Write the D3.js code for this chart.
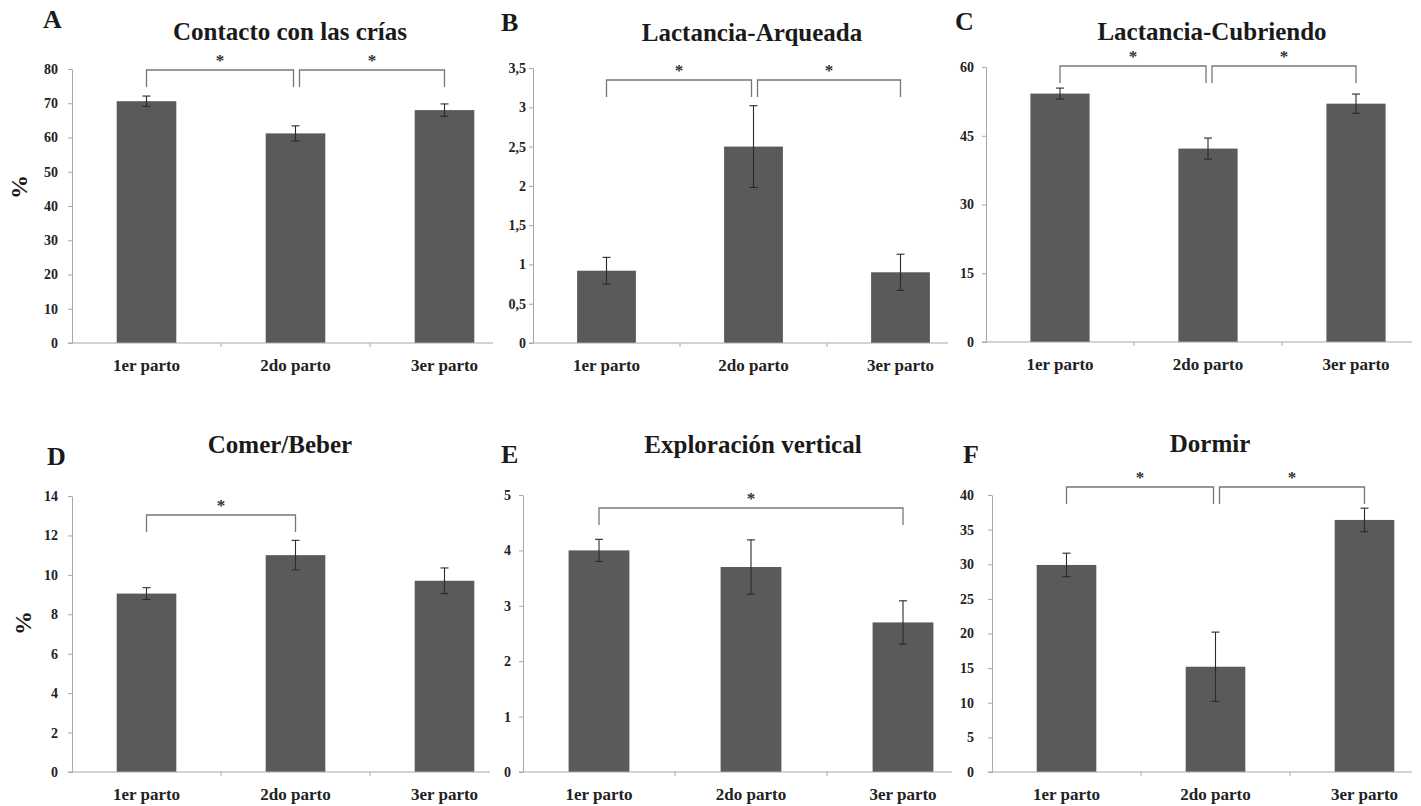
<!DOCTYPE html>
<html>
<head>
<meta charset="utf-8">
<script src="https://cdn.jsdelivr.net/npm/d3@7"></script>
<style>
    body { margin: 0; background: #fff; }
    svg text { font-family: "Liberation Serif", "Times New Roman", serif; font-weight: bold; }
</style>
</head>
<body>
<svg id="chart" width="1421" height="806"></svg>
<script>
// categorías del eje x
var categories = ["1er parto", "2do parto", "3er parto"];

// medias y errores estándar
var contactoMean = [70.6, 61.2, 68.0];
var contactoErr = [1.5, 2.2, 1.8];
var arqueadaMean = [0.92, 2.5, 0.9];
var arqueadaErr = [0.17, 0.52, 0.23];
var cubriendoMean = [54.2, 42.2, 52.0];
var cubriendoErr = [1.2, 2.3, 2.1];
var comerMean = [9.05, 11.0, 9.7];
var comerErr = [0.3, 0.75, 0.65];
var exploracionMean = [4.0, 3.7, 2.7];
var exploracionErr = [0.2, 0.49, 0.39];
var dormirMean = [29.9, 15.2, 36.4];
var dormirErr = [1.7, 5.0, 1.7];

// marcas del eje y
var ticksA = [0, 10, 20, 30, 40, 50, 60, 70, 80];
var ticksB = [0, 0.5, 1, 1.5, 2, 2.5, 3, 3.5];
var ticksC = [0, 15, 30, 45, 60];
var ticksD = [0, 2, 4, 6, 8, 10, 12, 14];
var ticksE = [0, 1, 2, 3, 4, 5];
var ticksF = [0, 5, 10, 15, 20, 25, 30, 35, 40];

// comparaciones significativas (índices de categorías)
var sigA = [[0, 1], [1, 2]];
var sigB = [[0, 1], [1, 2]];
var sigC = [[0, 1], [1, 2]];
var sigD = [[0, 1]];
var sigE = [[0, 2]];
var sigF = [[0, 1], [1, 2]];

var svg = d3.select("#chart");
var barColor = "#5a5a5a",
    axisColor = "#a8a8a8";

function fmt(d) {
    return String(d).replace(".", ",");
}

function drawPanel(p) {
    var g = svg.append("g");

    var x = d3.scaleBand()
        .domain(categories)
        .range([p.left, p.left + p.len])
        .paddingInner(0.6)
        .paddingOuter(0.3);
    var y = d3.scaleLinear()
        .domain([0, d3.max(p.ticks)])
        .range([p.bottom, p.top]);

    // barras
    g.append("g")
        .selectAll("rect")
        .data(p.mean)
        .enter()
        .append("rect")
        .attr("x", function (d, i) { return x(categories[i]); })
        .attr("y", function (d) { return y(d); })
        .attr("width", x.bandwidth())
        .attr("height", function (d) { return p.bottom - y(d); })
        .attr("fill", barColor);

    // barras de error
    var eb = g.append("g")
        .selectAll("g")
        .data(p.mean)
        .enter()
        .append("g")
        .attr("stroke", "#2a2a2a")
        .attr("stroke-width", 1.1);
    eb.append("line")
        .attr("x1", function (d, i) { return x(categories[i]) + x.bandwidth() / 2; })
        .attr("x2", function (d, i) { return x(categories[i]) + x.bandwidth() / 2; })
        .attr("y1", function (d, i) { return y(d - p.err[i]); })
        .attr("y2", function (d, i) { return y(d + p.err[i]); });
    [1, -1].forEach(function (s) {
        eb.append("line")
            .attr("x1", function (d, i) { return x(categories[i]) + x.bandwidth() / 2 - 4; })
            .attr("x2", function (d, i) { return x(categories[i]) + x.bandwidth() / 2 + 4; })
            .attr("y1", function (d, i) { return y(d + s * p.err[i]); })
            .attr("y2", function (d, i) { return y(d + s * p.err[i]); });
    });

    // eje y
    var yAxis = g.append("g")
        .attr("transform", "translate(" + p.left + ",0)")
        .call(d3.axisLeft(y).tickValues(p.ticks).tickSize(4).tickSizeOuter(0)
            .tickPadding(p.pad).tickFormat(fmt));
    yAxis.select(".domain").attr("stroke", axisColor);
    yAxis.selectAll(".tick line").attr("stroke", axisColor);
    yAxis.selectAll("text")
        .attr("fill", "#222")
        .style("font-size", "14px")
        .style("font-family", "'Liberation Serif', serif");

    // eje x
    g.append("line")
        .attr("x1", p.left - 4)
        .attr("x2", p.axisEnd)
        .attr("y1", p.bottom)
        .attr("y2", p.bottom)
        .attr("stroke", axisColor);
    g.append("g")
        .selectAll("line")
        .data([1, 2])
        .enter()
        .append("line")
        .attr("x1", function (d) { return p.left + d * x.step(); })
        .attr("x2", function (d) { return p.left + d * x.step(); })
        .attr("y1", p.bottom)
        .attr("y2", p.bottom + 4)
        .attr("stroke", axisColor);
    var xAxis = g.append("g")
        .attr("transform", "translate(0," + p.bottom + ")")
        .call(d3.axisBottom(x).tickSize(0).tickPadding(16));
    xAxis.select(".domain").remove();
    xAxis.selectAll("text")
        .attr("fill", "#222")
        .style("font-size", "17px")
        .style("font-family", "'Liberation Serif', serif");

    // corchetes de significancia
    p.sig.forEach(function (s, k) {
        var cx0 = x(categories[s[0]]) + x.bandwidth() / 2,
            cx1 = x(categories[s[1]]) + x.bandwidth() / 2;
        if (k > 0) cx0 += 4;
        if (p.sig.length > 1 && k == 0) cx1 -= 2;
        g.append("path")
            .attr("d", "M" + cx0 + "," + (p.brY + 17) + "V" + p.brY + "H" + cx1 + "V" + (p.brY + 17))
            .attr("fill", "none")
            .attr("stroke", "#777")
            .attr("stroke-width", 1.3);
        g.append("text")
            .attr("x", (cx0 + cx1) / 2)
            .attr("y", p.brY - 4)
            .attr("text-anchor", "middle")
            .attr("fill", "#333")
            .style("font-size", "17px")
            .text("*");
    });

    // título y letra del panel
    g.append("text")
        .attr("x", p.titleX)
        .attr("y", p.titleY)
        .attr("text-anchor", "middle")
        .attr("fill", "#1a1a1a")
        .style("font-size", "25px")
        .text(p.title);
    g.append("text")
        .attr("x", p.letterX)
        .attr("y", p.letterY)
        .attr("fill", "#1a1a1a")
        .style("font-size", "26px")
        .text(p.letter);

    if (p.ylabel) {
        g.append("text")
            .attr("transform", "translate(" + p.ylabelX + "," + p.ylabelY + ") rotate(-90)")
            .attr("text-anchor", "middle")
            .attr("fill", "#1a1a1a")
            .style("font-size", "24px")
            .text(p.ylabel);
    }
}

drawPanel({letter: "A", title: "Contacto con las crías", mean: contactoMean, err: contactoErr, ticks: ticksA, sig: sigA,
    left: 72, len: 447, axisEnd: 493, top: 69, bottom: 343, pad: 10, brY: 70,
    titleX: 290, titleY: 40, letterX: 43, letterY: 28, ylabel: "%", ylabelX: 27, ylabelY: 187});
drawPanel({letter: "B", title: "Lactancia-Arqueada", mean: arqueadaMean, err: arqueadaErr, ticks: ticksB, sig: sigB,
    left: 533, len: 441, axisEnd: 948, top: 68, bottom: 343, pad: 3, brY: 80,
    titleX: 752, titleY: 41, letterX: 501, letterY: 31});
drawPanel({letter: "C", title: "Lactancia-Cubriendo", mean: cubriendoMean, err: cubriendoErr, ticks: ticksC, sig: sigC,
    left: 986, len: 444, axisEnd: 1412, top: 67, bottom: 342, pad: 8, brY: 66,
    titleX: 1212, titleY: 40, letterX: 955, letterY: 30});
drawPanel({letter: "D", title: "Comer/Beber", mean: comerMean, err: comerErr, ticks: ticksD, sig: sigD,
    left: 72, len: 447, axisEnd: 490, top: 496, bottom: 772, pad: 10, brY: 515,
    titleX: 280, titleY: 453, letterX: 47, letterY: 465, ylabel: "%", ylabelX: 31, ylabelY: 623});
drawPanel({letter: "E", title: "Exploración vertical", mean: exploracionMean, err: exploracionErr, ticks: ticksE, sig: sigE,
    left: 523, len: 456, axisEnd: 952, top: 495, bottom: 772, pad: 8, brY: 508,
    titleX: 753, titleY: 453, letterX: 501, letterY: 463});
drawPanel({letter: "F", title: "Dormir", mean: dormirMean, err: dormirErr, ticks: ticksF, sig: sigF,
    left: 992, len: 447, axisEnd: 1412, top: 495, bottom: 772, pad: 14, brY: 487,
    titleX: 1210, titleY: 452, letterX: 963, letterY: 463});
</script>
</body>
</html>
